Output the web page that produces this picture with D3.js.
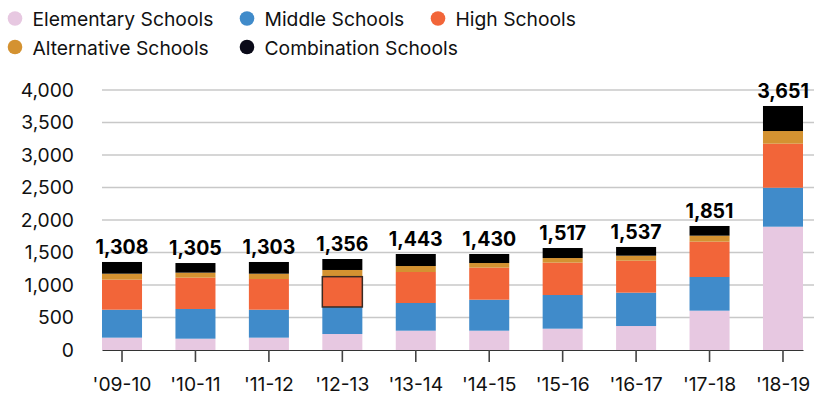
<!DOCTYPE html>
<html>
<head>
<meta charset="utf-8">
<script src="https://cdn.jsdelivr.net/npm/d3@7"></script>
<style>
  body { margin: 0; background: #fff; }
  svg text { font-family: Inter, "DejaVu Sans", sans-serif; }
</style>
</head>
<body>
<div id="chart"></div>
<script>
// school years (x axis)
const years = ["'09-10", "'10-11", "'11-12", "'12-13", "'13-14", "'14-15", "'15-16", "'16-17", "'17-18", "'18-19"];

// segment values
const elementary  = [190, 174, 190, 246, 297, 297, 328, 369, 605, 1897];
const middle      = [430, 457, 430, 416, 426, 477, 518, 513, 518, 600];
const high        = [462, 482, 472, 466, 477, 493, 498, 492, 544, 677];
const alternative = [92, 77, 82, 103, 92, 71, 71, 77, 92, 195];
const combination = [180, 148, 180, 169, 185, 139, 154, 134, 149, 385];

// printed totals above each bar
const totals = [1308, 1305, 1303, 1356, 1443, 1430, 1517, 1537, 1851, 3651];

const yTicks = [0, 500, 1000, 1500, 2000, 2500, 3000, 3500, 4000];

const series = [
  { key: 'elementary',  name: 'Elementary Schools',  color: '#e7c8e1', values: elementary },
  { key: 'middle',      name: 'Middle Schools',      color: '#408bca', values: middle },
  { key: 'high',        name: 'High Schools',        color: '#f26539', values: high },
  { key: 'alternative', name: 'Alternative Schools', color: '#d49231', values: alternative },
  { key: 'combination', name: 'Combination Schools', color: '#000000', values: combination }
];

// the outlined segment in the picture
const highlight = { year: "'12-13", key: 'high' };

const W = 814, H = 396;
const svg = d3.select('#chart').append('svg')
  .attr('width', W).attr('height', H)
  .attr('viewBox', `0 0 ${W} ${H}`);

const rows = years.map((yr, i) => {
  const r = { year: yr };
  series.forEach(s => { r[s.key] = s.values[i]; });
  return r;
});
const stacked = d3.stack().keys(series.map(s => s.key))(rows);

const x = d3.scaleBand().domain(years).range([102, 803]).paddingInner(0.455).paddingOuter(0);
const y = d3.scaleLinear().domain([0, 4000]).range([350, 90]);

// Grid lines
svg.selectAll('.gy').data(yTicks.filter(d => d > 0)).join('line')
  .attr('x1', 102).attr('x2', W).attr('y1', d => y(d)).attr('y2', d => y(d))
  .attr('stroke', '#c8c8c8').attr('stroke-width', 1.3);

// Y labels
svg.append('g').attr('transform', 'translate(74,0)')
  .call(d3.axisLeft(y).tickValues(yTicks).tickSize(0).tickPadding(0).tickFormat(d3.format(',')))
  .call(g => g.select('.domain').remove())
  .selectAll('text').style('fill', '#111').style('font-size', '19.3px')
  .attr('font-family', null);

// Bars
const colorOf = Object.fromEntries(series.map(s => [s.key, s.color]));
svg.selectAll('.layer').data(stacked).join('g')
  .attr('class', 'layer')
  .attr('fill', d => colorOf[d.key])
  .each(function(layer) {
    d3.select(this).selectAll('rect').data(layer).join('rect')
      .attr('x', d => x(d.data.year))
      .attr('width', x.bandwidth())
      .attr('y', d => y(d[1]))
      .attr('height', d => y(d[0]) - y(d[1]));
  });

// outline on the highlighted segment
const hl = stacked.find(l => l.key === highlight.key).find(d => d.data.year === highlight.year);
svg.append('rect')
  .attr('x', x(hl.data.year)).attr('width', x.bandwidth())
  .attr('y', y(hl[1])).attr('height', y(hl[0]) - y(hl[1]))
  .attr('fill', 'none').attr('stroke', '#3a2a22').attr('stroke-width', 1.5);

// X axis
svg.append('g').attr('transform', 'translate(0,350)')
  .call(d3.axisBottom(x).tickSize(12).tickPadding(15).tickSizeOuter(0))
  .call(g => g.select('.domain').attr('stroke', '#333').attr('stroke-width', 1.2))
  .call(g => g.selectAll('.tick line').attr('stroke', '#444').attr('stroke-width', 1.6))
  .selectAll('text').style('fill', '#111').style('font-size', '19.3px')
  .attr('font-family', null);

// Total labels
const topLayer = stacked[stacked.length - 1];
svg.selectAll('.lbl').data(years).join('text')
  .attr('x', d => x(d) + x.bandwidth() / 2)
  .attr('y', (d, i) => y(topLayer[i][1]) - 8)
  .attr('text-anchor', 'middle').attr('fill', '#000')
  .attr('font-size', '19.5px').attr('font-weight', 700)
  .text((d, i) => d3.format(',')(totals[i]));

// Legend
const legendPos = [
  { cx: 15, cy: 18.5 }, { cx: 247, cy: 18.5 }, { cx: 438, cy: 18.5 },
  { cx: 15, cy: 47 }, { cx: 247, cy: 47 }
];
const lg = svg.selectAll('.lg').data(series).join('g')
  .attr('transform', (d, i) => `translate(${legendPos[i].cx},${legendPos[i].cy})`);
lg.append('circle').attr('r', 7.3).attr('fill', d => d.key === 'combination' ? '#0a0a18' : d.color);
lg.append('text').attr('x', 17.5).attr('y', 7.5)
  .attr('font-size', '19.3px').attr('fill', '#111')
  .text(d => d.name);
</script>
</body>
</html>
